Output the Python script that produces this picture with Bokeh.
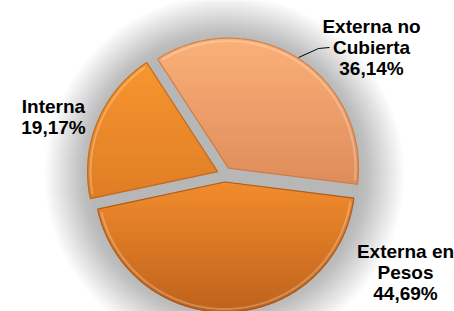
import numpy as np
from bokeh.plotting import figure
from bokeh.models import Range1d
from bokeh.core.properties import value
from bokeh.embed import file_html
from bokeh.resources import INLINE

# ---------------- data ----------------
categories = ["Externa no Cubierta", "Externa en Pesos", "Interna"]
shares = [36.14, 44.69, 19.17]
label_lines = [["Externa no", "Cubierta"], ["Externa en", "Pesos"], ["Interna"]]

# ---------------- style / layout ----------------
top_colors = ["#FCB077", "#F28C2E", "#F8952F"]
bot_colors = ["#DF8C5A", "#BF631D", "#DF7D24"]
edge_colors = ["#C9773F", "#9E5116", "#B8651C"]
start_deg = 123.0          # first slice starts here and runs clockwise
explode = 7.5
R = 130.0
CX, CY = 224.0, 311 - 174.0
label_pos = [(371, [311 - 26, 311 - 47, 311 - 68]),
             (405, [311 - 251, 311 - 272, 311 - 293]),
             (53, [311 - 106, 311 - 127])]

p = figure(width=454, height=311, x_range=Range1d(0, 454), y_range=Range1d(0, 311),
           output_backend="svg", toolbar_location=None, min_border=0,
           x_axis_location=None, y_axis_location=None)
p.grid.visible = False
p.outline_line_color = None
p.background_fill_color = "#FFFFFF"
p.border_fill_color = "#FFFFFF"

# soft glow / shadow behind the pie
n = 40
radii = np.linspace(R + 50, R + 4, n)
p.circle(x=[CX] * n, y=[CY] * n, radius=list(radii), fill_color="#9a9a9a",
         fill_alpha=0.017, line_color=None)


def hex2rgb(h):
    h = h.lstrip("#")
    return np.array([int(h[i:i + 2], 16) for i in (0, 2, 4)], dtype=float)


def rgb2hex(c):
    c = np.clip(np.round(c), 0, 255).astype(int)
    return "#%02x%02x%02x" % tuple(c)


def clip_half(poly, y0, keep_above):
    out = []
    m = len(poly)
    for i in range(m):
        a = poly[i]
        b = poly[(i + 1) % m]
        ina = a[1] >= y0 if keep_above else a[1] <= y0
        inb = b[1] >= y0 if keep_above else b[1] <= y0
        if ina:
            out.append(a)
        if ina != inb:
            t = (y0 - a[1]) / (b[1] - a[1])
            out.append((a[0] + t * (b[0] - a[0]), y0))
    return out


total = sum(shares)
ang = np.radians(start_deg)
band_xs, band_ys, band_cols = [], [], []
outlines_x, outlines_y, outline_cols = [], [], []
for i, s in enumerate(shares):
    span = 2 * np.pi * s / total
    a0, a1 = ang, ang - span
    mid = (a0 + a1) / 2
    vx, vy = CX + explode * np.cos(mid), CY + explode * np.sin(mid)
    th = np.linspace(a0, a1, 160)
    poly = [(vx, vy)] + [(vx + R * np.cos(t), vy + R * np.sin(t)) for t in th]
    ys_all = [q[1] for q in poly]
    ytop, ybot = max(ys_all), min(ys_all)
    ctop, cbot = hex2rgb(top_colors[i]), hex2rgb(bot_colors[i])
    step = 2.0
    y = ytop
    while y > ybot:
        y1 = max(y - step, ybot)
        part = clip_half(clip_half(poly, y1, True), y, False)
        if len(part) >= 3:
            t = (ytop - (y + y1) / 2) / (ytop - ybot)
            col = rgb2hex(ctop + (cbot - ctop) * t)
            band_xs.append([q[0] for q in part])
            band_ys.append([q[1] for q in part])
            band_cols.append(col)
        y = y1
    outlines_x.append([q[0] for q in poly])
    outlines_y.append([q[1] for q in poly])
    outline_cols.append(edge_colors[i])
    ang = a1

p.patches(xs=band_xs, ys=band_ys, fill_color=band_cols, line_color=band_cols, line_width=0.8)

# bevel highlight along the outer rim
ang = np.radians(start_deg)
for i, s in enumerate(shares):
    span = 2 * np.pi * s / total
    a0, a1 = ang, ang - span
    mid = (a0 + a1) / 2
    vx, vy = CX + explode * np.cos(mid), CY + explode * np.sin(mid)
    th = np.linspace(a0 - 0.03, a1 + 0.03, 120)
    p.line(x=list(vx + (R - 3) * np.cos(th)), y=list(vy + (R - 3) * np.sin(th)),
           line_color="#FFFFFF", line_alpha=0.25, line_width=2)
    ang = a1

p.patches(xs=outlines_x, ys=outlines_y, fill_color=None, line_color=outline_cols,
          line_width=1.2, line_alpha=0.8)

# leader line for the first label
p.line(x=[298, 318, 329], y=[311 - 57, 311 - 48, 311 - 47], line_color="#000000", line_width=1)

# labels
tx, ty, tt = [], [], []
for i, s in enumerate(shares):
    pct = ("%.2f" % s).replace(".", ",") + "%"
    lines = label_lines[i] + [pct]
    x, ylist = label_pos[i]
    for ln, yy in zip(lines, ylist):
        tx.append(x)
        ty.append(yy)
        tt.append(ln)
p.text(x=tx, y=ty, text=tt, text_font=value("Liberation Sans"), text_font_style="bold",
       text_font_size="19px", text_align="center", text_baseline="alphabetic",
       text_color="#000000")

open("out.html", "w").write(file_html(p, INLINE))
